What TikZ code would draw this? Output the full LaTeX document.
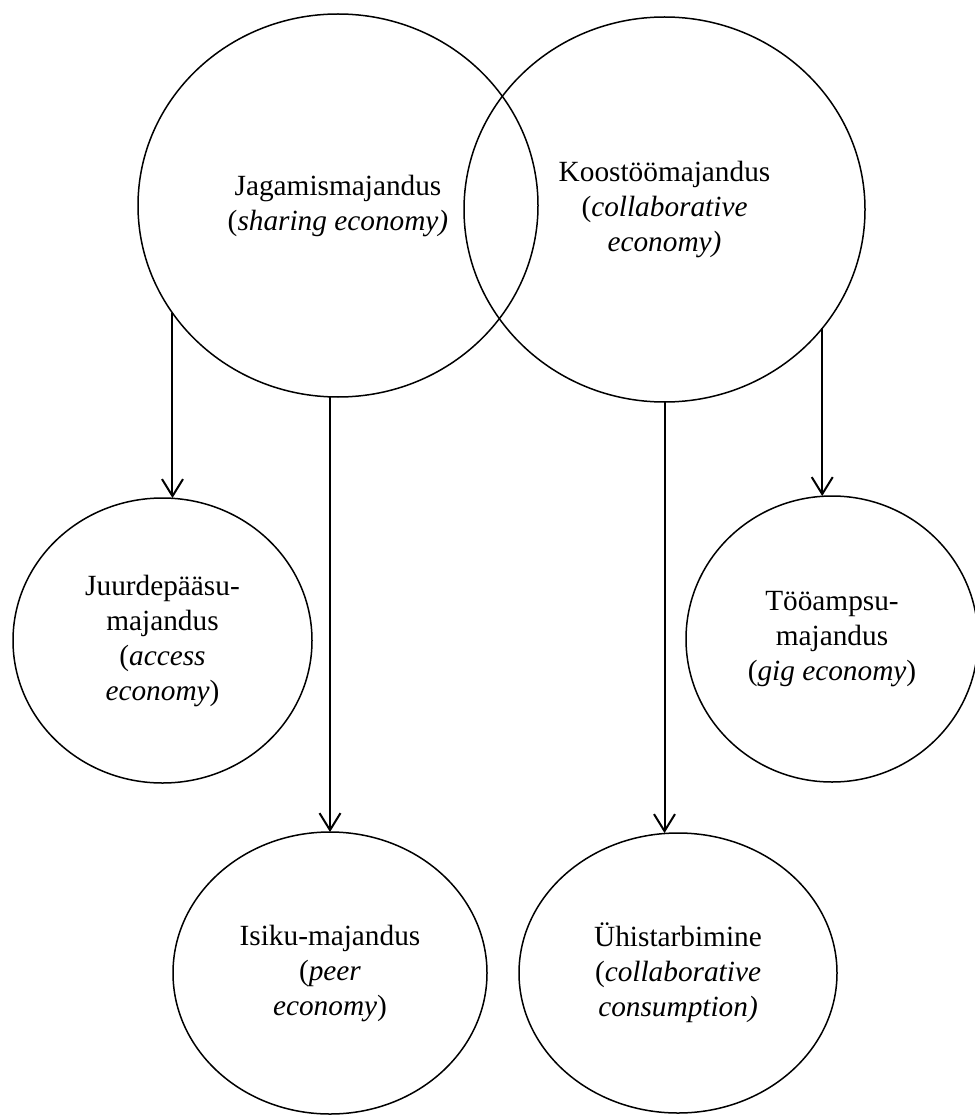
\documentclass[tikz,border=0pt]{standalone}
\usepackage{fontspec}
\setmainfont{Liberation Serif}
\usetikzlibrary{shapes.geometric,arrows.meta}
\tikzset{
  bubble/.style={ellipse, draw, line width=1.5pt, inner sep=0pt, outer sep=0pt,
    align=center, font=\fontsize{29.3}{35}\selectfont},
  arr/.style={line width=2pt, -{Straight Barb[length=17pt,width=21pt]}}
}
\begin{document}
\begin{tikzpicture}[x=1pt,y=-1pt]
\useasboundingbox (0,0) rectangle (974,1115);
\node[bubble, minimum width=400pt, minimum height=383pt] (j) at (338,205.5)
  {Jagamismajandus\\(\textit{sharing economy)}};
\node[bubble, minimum width=401pt, minimum height=385pt] (k) at (664.5,209.5)
  {Koostöömajandus\\(\textit{collaborative}\\\textit{economy)}};
\node[bubble, minimum width=299pt, minimum height=285pt] (a) at (162.5,640.5)
  {Juurdepääsu-\\majandus\\(\textit{access}\\\textit{economy})};
\node[bubble, minimum width=292pt, minimum height=286pt] (t) at (832,639)
  {Tööampsu-\\majandus\\(\textit{gig economy})};
\node[bubble, minimum width=314pt, minimum height=282pt] (i) at (330,973)
  {Isiku-majandus\\(\textit{peer}\\\textit{economy})};
\node[bubble, minimum width=318pt, minimum height=280pt] (u) at (678,973)
  {Ühistarbimine\\(\textit{collaborative}\\\textit{consumption)}};
\draw[arr] (j.213.25) -- (j.213.25 |- a.north);
\draw[arr] (i.north |- j.south) -- (i.north);
\draw[arr] (k.south) -- (k.south |- u.north);
\draw[arr] (k.-37.55) -- (k.-37.55 |- t.north);
\end{tikzpicture}
\end{document}
